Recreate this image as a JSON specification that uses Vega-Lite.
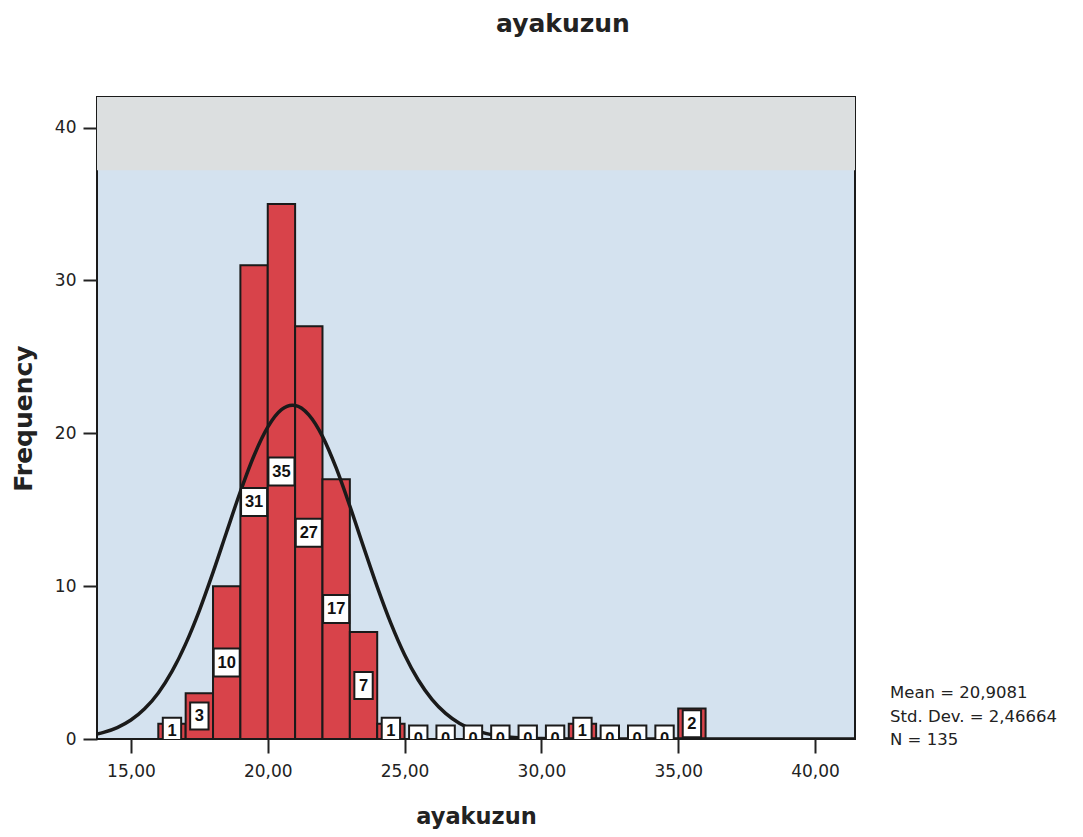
{
  "$schema": "https://vega.github.io/schema/vega-lite/v6.json",
  "width": 758,
  "height": 642,
  "autosize": {"type": "none"},
  "padding": {"left": 97, "top": 97, "right": 228, "bottom": 98},
  "background": "white",
  "title": {"text": "ayakuzun", "fontSize": 25, "font": "DejaVu Sans", "fontWeight": "bold", "color": "#222222", "dx": 87, "offset": 60, "anchor": "middle"},
  "config": {
    "view": {"fill": "#d4e2ef", "stroke": "#1a1a1a", "strokeWidth": 2},
    "axis": {"domain": false, "grid": false, "tickColor": "#222222", "tickWidth": 2, "tickSize": 14, "labelFont": "DejaVu Sans", "labelFontSize": 17, "labelColor": "#222222", "titleFont": "DejaVu Sans", "titleFontWeight": "bold", "titleColor": "#222222"}
  },
  "data": {"values": [
    {"bin_start": 16, "bin_end": 17, "count": 1},
    {"bin_start": 17, "bin_end": 18, "count": 3},
    {"bin_start": 18, "bin_end": 19, "count": 10},
    {"bin_start": 19, "bin_end": 20, "count": 31},
    {"bin_start": 20, "bin_end": 21, "count": 35},
    {"bin_start": 21, "bin_end": 22, "count": 27},
    {"bin_start": 22, "bin_end": 23, "count": 17},
    {"bin_start": 23, "bin_end": 24, "count": 7},
    {"bin_start": 24, "bin_end": 25, "count": 1},
    {"bin_start": 25, "bin_end": 26, "count": 0},
    {"bin_start": 26, "bin_end": 27, "count": 0},
    {"bin_start": 27, "bin_end": 28, "count": 0},
    {"bin_start": 28, "bin_end": 29, "count": 0},
    {"bin_start": 29, "bin_end": 30, "count": 0},
    {"bin_start": 30, "bin_end": 31, "count": 0},
    {"bin_start": 31, "bin_end": 32, "count": 1},
    {"bin_start": 32, "bin_end": 33, "count": 0},
    {"bin_start": 33, "bin_end": 34, "count": 0},
    {"bin_start": 34, "bin_end": 35, "count": 0},
    {"bin_start": 35, "bin_end": 36, "count": 2}
  ]},
  "resolve": {"scale": {"y": "independent"}},
  "layer": [
    {
      "layer": [
        {
          "data": {"values": [{}]},
          "mark": {"type": "rect", "fill": "#dcdfe0", "stroke": null},
          "encoding": {
            "x": {"datum": 13.76, "type": "quantitative", "scale": {"domain": [13.76, 41.46], "nice": false, "zero": false}},
            "x2": {"datum": 41.46},
            "y": {"datum": 37.2, "type": "quantitative", "scale": {"domain": [0, 42], "nice": false}},
            "y2": {"datum": 42}
          }
        },
        {
          "mark": {"type": "rect", "fill": "#d8434a", "stroke": "#1a1a1a", "strokeWidth": 2},
          "encoding": {
            "x": {"field": "bin_start", "type": "quantitative", "title": "ayakuzun",
                  "scale": {"domain": [13.76, 41.46], "nice": false, "zero": false},
                  "axis": {"values": [15, 20, 25, 30, 35, 40], "labelExpr": "replace(format(datum.value, '.2f'), '.', ',')", "labelPadding": 10, "titleFontSize": 22.5, "titlePadding": 26}},
            "x2": {"field": "bin_end"},
            "y": {"field": "count", "type": "quantitative", "title": "Frequency",
                  "scale": {"domain": [0, 42], "nice": false},
                  "axis": {"values": [0, 10, 20, 30, 40], "labelPadding": 7, "titleFontSize": 25, "titlePadding": 18}},
            "y2": {"datum": 0}
          }
        },
        {
          "data": {"values": [
            {"x": 13.76, "density": 0.326},
            {"x": 14, "density": 0.433},
            {"x": 14.5, "density": 0.747},
            {"x": 15, "density": 1.239},
            {"x": 15.5, "density": 1.973},
            {"x": 16, "density": 3.015},
            {"x": 16.5, "density": 4.422},
            {"x": 17, "density": 6.225},
            {"x": 17.5, "density": 8.406},
            {"x": 18, "density": 10.9},
            {"x": 18.5, "density": 13.56},
            {"x": 19, "density": 16.19},
            {"x": 19.5, "density": 18.55},
            {"x": 20, "density": 20.4},
            {"x": 20.5, "density": 21.54},
            {"x": 20.9, "density": 21.83},
            {"x": 21, "density": 21.82},
            {"x": 21.5, "density": 21.21},
            {"x": 22, "density": 19.8},
            {"x": 22.5, "density": 17.73},
            {"x": 23, "density": 15.24},
            {"x": 23.5, "density": 12.57},
            {"x": 24, "density": 9.954},
            {"x": 24.5, "density": 7.564},
            {"x": 25, "density": 5.515},
            {"x": 25.5, "density": 3.86},
            {"x": 26, "density": 2.594},
            {"x": 26.5, "density": 1.672},
            {"x": 27, "density": 1.034},
            {"x": 27.5, "density": 0.614},
            {"x": 28, "density": 0.35},
            {"x": 28.5, "density": 0.192},
            {"x": 29, "density": 0.1},
            {"x": 30, "density": 0.025},
            {"x": 31, "density": 0.005},
            {"x": 32, "density": 0.001},
            {"x": 34, "density": 0},
            {"x": 38, "density": 0},
            {"x": 41.46, "density": 0}
          ]},
          "mark": {"type": "line", "color": "#1a1a1a", "strokeWidth": 3.5, "interpolate": "monotone", "clip": true},
          "encoding": {
            "x": {"field": "x", "type": "quantitative"},
            "y": {"field": "density", "type": "quantitative"}
          }
        },
        {
          "data": {"values": [{}]},
          "mark": {"type": "text", "align": "left", "baseline": "alphabetic", "font": "DejaVu Sans", "fontSize": 16.5, "lineHeight": 23.5, "color": "#222222"},
          "encoding": {
            "x": {"datum": 42.74, "type": "quantitative"},
            "y": {"datum": 2.68, "type": "quantitative"},
            "text": {"value": ["Mean = 20,9081", "Std. Dev. = 2,46664", "N = 135"]}
          }
        }
      ]
    },
    {
      "layer": [
        {
          "transform": [{"filter": "datum.count >= 10"}],
          "mark": {"type": "point", "shape": "M-0.93,-1H0.93V1H-0.93Z", "size": 784, "filled": true, "fill": "white", "stroke": "#1a1a1a", "strokeWidth": 2, "opacity": 1, "clip": true},
          "encoding": {
            "x": {"field": "bin_start", "type": "quantitative", "bin": "binned"},
            "x2": {"field": "bin_end"},
            "y": {"field": "count", "type": "quantitative", "scale": {"domain": [0, 84], "nice": false}, "axis": null}
          }
        },
        {
          "transform": [{"filter": "datum.count < 10"}],
          "mark": {"type": "point", "shape": "M-0.68,-1H0.68V1H-0.68Z", "size": 729, "filled": true, "fill": "white", "stroke": "#1a1a1a", "strokeWidth": 2, "opacity": 1, "clip": true},
          "encoding": {
            "x": {"field": "bin_start", "type": "quantitative", "bin": "binned"},
            "x2": {"field": "bin_end"},
            "y": {"field": "count", "type": "quantitative", "scale": {"domain": [0, 84], "nice": false}, "axis": null}
          }
        },
        {
          "mark": {"type": "text", "font": "Liberation Sans", "fontSize": 16.5, "fontWeight": "bold", "color": "#111111", "baseline": "middle", "align": "center", "dx": 13.7, "clip": true},
          "encoding": {
            "x": {"field": "bin_start", "type": "quantitative"},
            "y": {"field": "count", "type": "quantitative", "scale": {"domain": [0, 84], "nice": false}, "axis": null},
            "text": {"field": "count", "type": "quantitative"}
          }
        }
      ]
    }
  ]
}
